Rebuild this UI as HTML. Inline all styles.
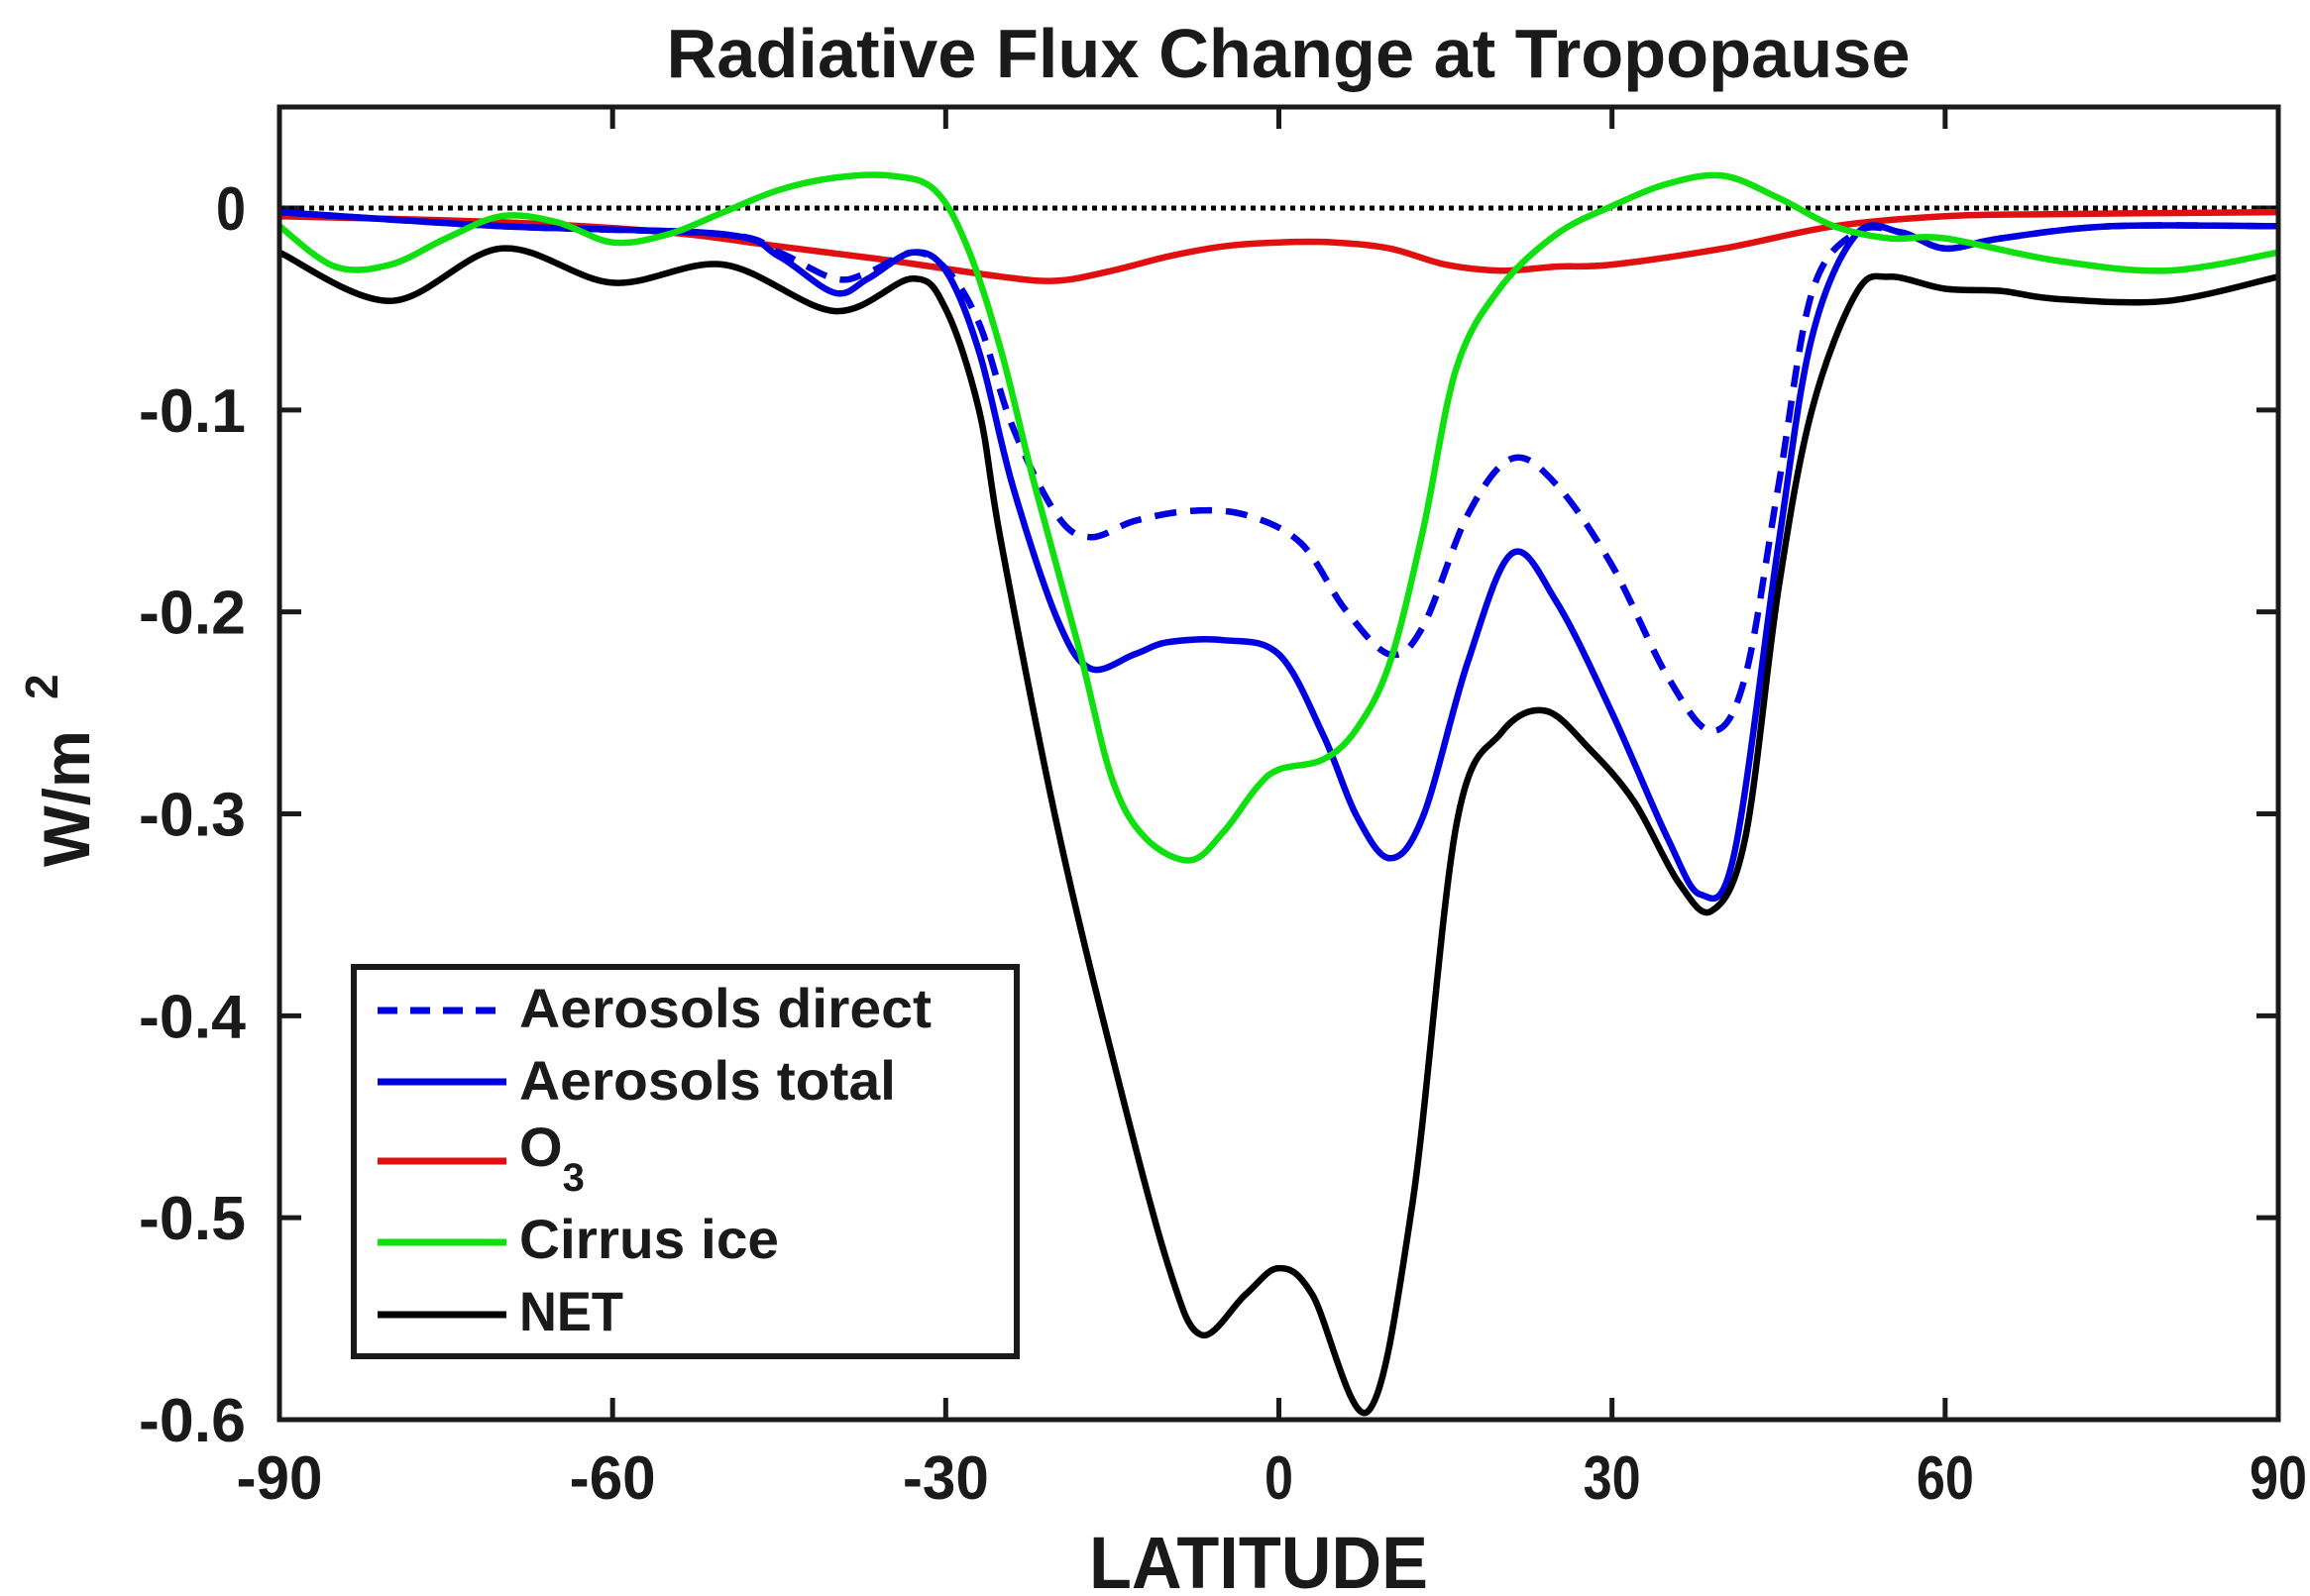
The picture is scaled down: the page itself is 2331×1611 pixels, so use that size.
<!DOCTYPE html>
<html><head><meta charset="utf-8"><style>
html,body{margin:0;padding:0;background:#fff}
svg{display:block}
text{font-family:"Liberation Sans",sans-serif;fill:#1a1a1a}
</style></head><body>
<svg id="chart" width="2331" height="1611" viewBox="0 0 2331 1611" xmlns="http://www.w3.org/2000/svg">
<text x="1300" y="78" text-anchor="middle" font-size="70" font-weight="bold" textLength="1255" lengthAdjust="spacingAndGlyphs">Radiative Flux Change at Tropopause</text>
<g id="ticks"></g>
<g id="series"></g>
<rect x="282" y="108" width="2017" height="1325" fill="none" stroke="#1a1a1a" stroke-width="5"/>
<text x="1270" y="1603" text-anchor="middle" font-size="74" font-weight="bold" textLength="342" lengthAdjust="spacingAndGlyphs">LATITUDE</text>
<text transform="translate(90,875) rotate(-90)" font-size="66" font-weight="bold" textLength="138" lengthAdjust="spacingAndGlyphs">W/m</text>
<text transform="translate(58,706) rotate(-90)" font-size="46" font-weight="bold">2</text>
<g>
<rect x="357" y="976" width="669" height="393" fill="#fff" stroke="#1a1a1a" stroke-width="6"/>
<line x1="381" y1="1020" x2="511" y2="1020" stroke="#0000e0" stroke-width="7" stroke-dasharray="20,13"/>
<text x="524" y="1037" font-size="56" font-weight="bold" textLength="416" lengthAdjust="spacingAndGlyphs">Aerosols direct</text>
<line x1="381" y1="1092" x2="511" y2="1092" stroke="#0000e0" stroke-width="7"/>
<text x="524" y="1110" font-size="56" font-weight="bold" textLength="380" lengthAdjust="spacingAndGlyphs">Aerosols total</text>
<line x1="381" y1="1172" x2="511" y2="1172" stroke="#e01010" stroke-width="7"/>
<text x="524" y="1177" font-size="56" font-weight="bold">O<tspan font-size="40" dy="25">3</tspan></text>
<line x1="381" y1="1254" x2="511" y2="1254" stroke="#10e010" stroke-width="7"/>
<text x="524" y="1270" font-size="56" font-weight="bold" textLength="262" lengthAdjust="spacingAndGlyphs">Cirrus ice</text>
<line x1="381" y1="1327" x2="511" y2="1327" stroke="#000" stroke-width="7"/>
<text x="524" y="1343" font-size="56" font-weight="bold" textLength="105" lengthAdjust="spacingAndGlyphs">NET</text>
</g>
</svg>
<script>
const xTicks=[-90,-60,-30,0,30,60,90];
const yTicks=[0,-0.1,-0.2,-0.3,-0.4,-0.5,-0.6];
const yTickLabels=["0","-0.1","-0.2","-0.3","-0.4","-0.5","-0.6"];
const netLat=[-90,-80,-70,-60,-50,-40,-33,-30,-27,-25,-20,-15,-10,-7,-3,0,3,8,12,16,20,24,28,32,36,39,42,45,48,52,55,60,65,70,80,90];
const netVal=[-0.022,-0.046,-0.020,-0.037,-0.028,-0.051,-0.035,-0.050,-0.10,-0.166,-0.305,-0.42,-0.523,-0.558,-0.538,-0.525,-0.538,-0.596,-0.494,-0.305,-0.26,-0.249,-0.268,-0.294,-0.334,-0.348,-0.312,-0.188,-0.10,-0.042,-0.034,-0.040,-0.041,-0.045,-0.046,-0.034];
const totLat=[-90,-70,-50,-45,-40,-37,-33,-30,-27,-24,-20,-17,-13,-10,-5,0,4,7,10,13,17,21,25,30,35,38,41,45,48,52,56,60,65,75,90];
const totVal=[-0.002,-0.009,-0.013,-0.024,-0.042,-0.035,-0.022,-0.031,-0.071,-0.137,-0.203,-0.228,-0.221,-0.215,-0.214,-0.221,-0.261,-0.301,-0.322,-0.301,-0.225,-0.171,-0.195,-0.25,-0.312,-0.340,-0.320,-0.166,-0.064,-0.013,-0.012,-0.020,-0.015,-0.009,-0.009];
const dirLat=[-90,-70,-50,-45,-40,-37,-33,-30,-27,-24,-20,-17,-13,-8,-3,2,6,10,13,17,21,25,30,35,39,42,45,48,52,56,60,65,75,90];
const dirVal=[-0.002,-0.009,-0.013,-0.022,-0.035,-0.032,-0.022,-0.030,-0.057,-0.108,-0.152,-0.163,-0.155,-0.150,-0.152,-0.166,-0.199,-0.221,-0.207,-0.152,-0.124,-0.137,-0.177,-0.232,-0.259,-0.232,-0.137,-0.042,-0.012,-0.012,-0.020,-0.015,-0.009,-0.009];
const o3Lat=[-90,-70,-55,-45,-35,-25,-20,-15,-10,-5,0,5,10,15,20,25,30,40,50,60,70,90];
const o3Val=[-0.004,-0.007,-0.012,-0.019,-0.026,-0.034,-0.036,-0.031,-0.024,-0.019,-0.017,-0.017,-0.020,-0.028,-0.031,-0.029,-0.028,-0.020,-0.009,-0.004,-0.003,-0.002];
const cirLat=[-90,-85,-80,-75,-70,-65,-60,-55,-50,-45,-40,-35,-31,-28,-25,-22,-18,-15,-12,-8,-5,-2,0,4,7,10,13,16,20,25,30,35,40,45,50,55,60,70,80,90];
const cirVal=[-0.009,-0.029,-0.028,-0.015,-0.004,-0.007,-0.017,-0.013,-0.002,0.009,0.015,0.016,0.009,-0.020,-0.071,-0.137,-0.218,-0.283,-0.312,-0.323,-0.309,-0.287,-0.278,-0.273,-0.258,-0.225,-0.159,-0.079,-0.039,-0.013,0.001,0.012,0.016,0.005,-0.009,-0.015,-0.015,-0.026,-0.031,-0.022];

const NS="http://www.w3.org/2000/svg";
function xs(v){return 282+(v+90)/180*2017;}
function ys(v){return 210-v/0.6*1223;}
function mk(tag,attrs,parent){const e=document.createElementNS(NS,tag);for(const k in attrs)e.setAttribute(k,attrs[k]);parent.appendChild(e);return e;}
const tg=document.getElementById('ticks');
xTicks.forEach((t,i)=>{
  const x=xs(t);
  const a=mk('line',{x1:x,y1:1433,x2:x,y2:1411,stroke:'#1a1a1a','stroke-width':5},tg);
  
  
  const b=mk('line',{x1:x,y1:108,x2:x,y2:130,stroke:'#1a1a1a','stroke-width':5},tg);
  
  
  const s=String(t);
  const l=mk('text',{x:x,y:1513,'text-anchor':'middle','font-size':62,'font-weight':'bold',textLength:(s.length*29),lengthAdjust:'spacingAndGlyphs'},tg);
  
  
  l.textContent=s;
});
yTicks.forEach((t,i)=>{
  const y=ys(t);
  const a=mk('line',{x1:282,y1:y,x2:304,y2:y,stroke:'#1a1a1a','stroke-width':5},tg);
  
  
  const b=mk('line',{x1:2299,y1:y,x2:2277,y2:y,stroke:'#1a1a1a','stroke-width':5},tg);
  
  
  const s=yTickLabels[i];
  const l=mk('text',{x:248,y:y+22,'text-anchor':'end','font-size':62,'font-weight':'bold',textLength:(s.length>1?s.length*27:30),lengthAdjust:'spacingAndGlyphs'},tg);
  
  
  l.textContent=s;
});
const zl=mk('line',{x1:282,y1:ys(0),x2:2299,y2:ys(0),stroke:'#000','stroke-width':5,'stroke-dasharray':'5,5'},tg);


function pathOf(lat,val){
  const p=lat.map((a,i)=>[xs(a),ys(val[i])]);
  let d='M'+p[0][0].toFixed(1)+','+p[0][1].toFixed(1);
  for(let i=0;i<p.length-1;i++){
    const p0=p[Math.max(0,i-1)],p1=p[i],p2=p[i+1],p3=p[Math.min(p.length-1,i+2)];
    const c1=[p1[0]+(p2[0]-p0[0])/6,p1[1]+(p2[1]-p0[1])/6];
    const c2=[p2[0]-(p3[0]-p1[0])/6,p2[1]-(p3[1]-p1[1])/6];
    d+=' C'+c1.map(v=>v.toFixed(1))+' '+c2.map(v=>v.toFixed(1))+' '+p2.map(v=>v.toFixed(1));
  }
  return d;
}
const sg=document.getElementById('series');
const o3=mk('path',{d:pathOf(o3Lat,o3Val),fill:'none',stroke:'#e01010','stroke-width':6.5},sg);


const dir=mk('path',{d:pathOf(dirLat,dirVal),fill:'none',stroke:'#0000e0','stroke-width':6.5,'stroke-dasharray':'22,14'},sg);


const tot=mk('path',{d:pathOf(totLat,totVal),fill:'none',stroke:'#0000e0','stroke-width':6.5},sg);


const cir=mk('path',{d:pathOf(cirLat,cirVal),fill:'none',stroke:'#10e010','stroke-width':6.5},sg);


const net=mk('path',{d:pathOf(netLat,netVal),fill:'none',stroke:'#000','stroke-width':6.5},sg);


</script>
</body></html>
